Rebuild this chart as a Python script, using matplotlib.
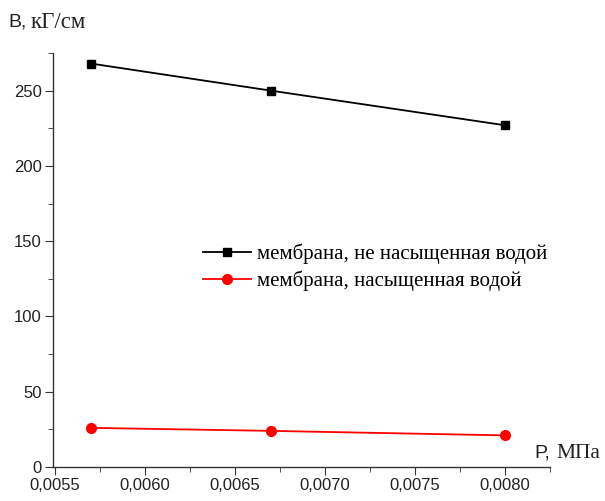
import numpy as np
import matplotlib.pyplot as plt
from matplotlib.ticker import MultipleLocator, FuncFormatter

# data
pressure = [0.0057, 0.0067, 0.0080]
b_dry = [268, 250, 227]
b_wet = [26, 24, 21]

label_dry = "мембрана, не насыщенная водой"
label_wet = "мембрана, насыщенная водой"

fig = plt.figure(figsize=(6.05, 5.01), dpi=100)
ax = fig.add_axes([53 / 605, (501 - 467) / 501, (550 - 53) / 605, (467 - 53) / 501])

ax.plot(pressure, b_dry, color="black", marker="s", markersize=6, linewidth=1.3, label=label_dry)
ax.plot(pressure, b_wet, color="red", marker="o", markersize=7, linewidth=1.3, label=label_wet)

ax.set_xlim(0.00549, 0.00825)
ax.set_ylim(0, 275)
ax.xaxis.set_major_locator(MultipleLocator(0.0005))
ax.xaxis.set_minor_locator(MultipleLocator(0.00025))
ax.yaxis.set_major_locator(MultipleLocator(50))
ax.yaxis.set_minor_locator(MultipleLocator(25))
ax.xaxis.set_major_formatter(FuncFormatter(lambda v, p: f"{v:.4f}".replace(".", ",")))

for s in ["top", "right"]:
    ax.spines[s].set_visible(False)
for s in ["left", "bottom"]:
    ax.spines[s].set_color("#333333")
    ax.spines[s].set_linewidth(1.0)

ax.tick_params(which="major", direction="out", length=6, color="#333333",
               labelsize=12, labelcolor="#222222", pad=2)
ax.tick_params(which="minor", direction="out", length=3.5, color="#333333")
for t in ax.get_xticklabels() + ax.get_yticklabels():
    t.set_family("Liberation Sans")

# axis titles: Latin letter in sans, Cyrillic units in serif
fig.text(8 / 605, 1 - 22 / 501, "B,", fontsize=14, family="Liberation Sans", va="center", color="#222222")
fig.text(31 / 605, 1 - 22 / 501, "кГ/см", fontsize=16.5, family="Liberation Serif", va="center", color="#222222")
fig.text(534 / 605, 1 - 453 / 501, "P,", fontsize=14, family="Liberation Sans", va="center", color="#222222")
fig.text(556 / 605, 1 - 453 / 501, "МПа", fontsize=15.5, family="Liberation Serif", va="center", color="#222222")

leg = ax.legend(loc="upper left", bbox_to_anchor=(203 / 605, 1 - 244 / 501),
                bbox_transform=fig.transFigure, frameon=False,
                prop={"family": "Liberation Serif", "size": 15},
                handlelength=2.3, handletextpad=0.3, labelspacing=0.3,
                borderaxespad=0, borderpad=0)

fig.savefig("out.png", dpi=100)
